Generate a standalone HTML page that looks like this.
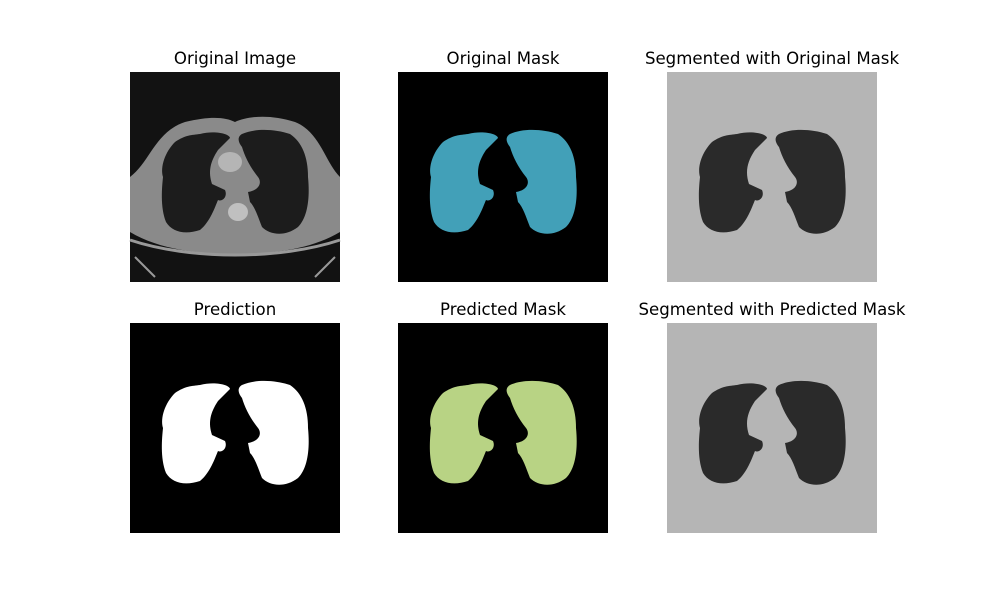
<!DOCTYPE html>
<html><head><meta charset="utf-8"><style>
body{margin:0;background:#fff;width:982px;height:599px;overflow:hidden;font-family:"DejaVu Sans","Liberation Sans",sans-serif}
</style></head><body>
<svg width="982" height="599" font-family="DejaVu Sans, Liberation Sans, sans-serif">
<defs>
<path id="L" d="M70,62 C85,58 100,62 100,66 L88,78 C80,90 78,100 82,112 L95,118 C98,125 92,130 88,128 C85,135 80,150 70,158 C55,163 42,160 36,150 C30,135 32,115 33,105 C30,95 35,80 45,70 C55,63 62,63 70,62 Z"/>
<path id="R" d="M112,62 C125,56 145,57 160,62 C172,70 178,85 178,105 C180,125 178,145 168,155 C155,165 140,163 132,155 C128,145 125,135 120,130 L118,120 C130,118 132,110 128,105 C120,95 115,85 112,75 C108,70 107,65 112,62 Z"/>
</defs>
<g font-size="16.6" text-anchor="middle" fill="#000">
<text x="235" y="64">Original Image</text>
<text x="503" y="64">Original Mask</text>
<text x="772" y="64">Segmented with Original Mask</text>
<text x="235" y="315">Prediction</text>
<text x="503" y="315">Predicted Mask</text>
<text x="772" y="315">Segmented with Predicted Mask</text>
</g>
<g transform="translate(130,72)">
<rect width="210" height="210" fill="#121212"/>
<path d="M0,105 C20,90 25,60 55,50 C80,44 95,45 105,50 C118,44 140,42 165,50 C190,60 195,90 210,105 L210,160 C180,178 140,182 105,182 C70,182 30,178 0,160 Z" fill="#8a8a8a"/>
<path d="M0,168 C60,188 150,188 210,168" stroke="#999" stroke-width="3" fill="none"/>
<path d="M5,185 L25,205 M205,185 L185,205" stroke="#999" stroke-width="2"/>
<use href="#L" fill="#1c1c1c"/><use href="#R" fill="#1c1c1c"/>
<ellipse cx="100" cy="90" rx="12" ry="10" fill="#b5b5b5"/>
<ellipse cx="108" cy="140" rx="10" ry="9" fill="#c0c0c0"/>
</g>
<g transform="translate(398,72)">
<rect width="210" height="210" fill="#000"/>
<use href="#L" fill="#42a0b8"/><use href="#R" fill="#42a0b8"/>
</g>
<g transform="translate(667,72)">
<rect width="210" height="210" fill="#b5b5b5"/>
<use href="#L" fill="#2a2a2a"/><use href="#R" fill="#2a2a2a"/>
</g>
<g transform="translate(130,323)">
<rect width="210" height="210" fill="#000"/>
<use href="#L" fill="#fff"/><use href="#R" fill="#fff"/>
</g>
<g transform="translate(398,323)">
<rect width="210" height="210" fill="#000"/>
<use href="#L" fill="#b8d384"/><use href="#R" fill="#b8d384"/>
</g>
<g transform="translate(667,323)">
<rect width="210" height="210" fill="#b5b5b5"/>
<use href="#L" fill="#2a2a2a"/><use href="#R" fill="#2a2a2a"/>
</g>
</svg>
</body></html>
